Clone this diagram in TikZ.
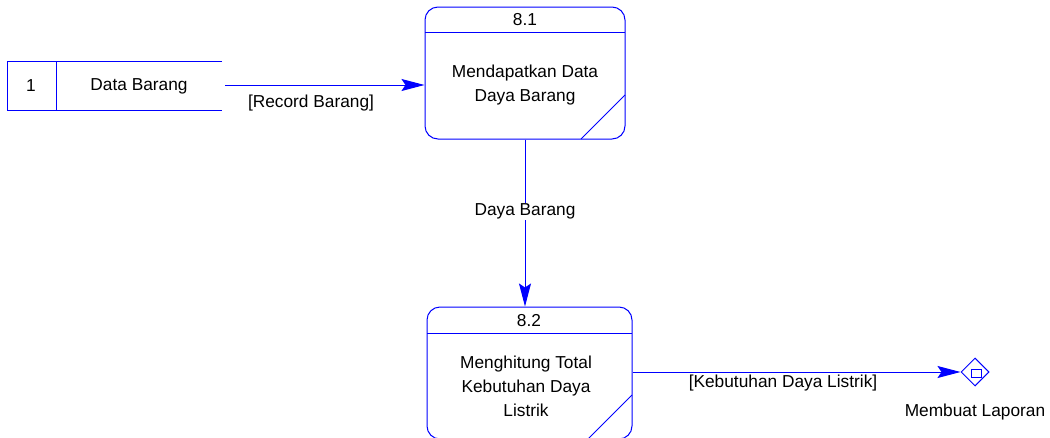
\documentclass[tikz,border=0pt]{standalone}
\usepackage{fontspec}
\setmainfont{Liberation Sans}
\usetikzlibrary{arrows.meta,shapes.geometric}
\definecolor{dfdblue}{RGB}{0,0,255}
\begin{document}
\begin{tikzpicture}[x=1pt,y=-1pt,
  line/.style={draw=dfdblue,line width=1pt},
  proc/.style={line, rounded corners=13pt, minimum height=132pt, inner sep=0pt},
  flow/.style={line, -{Stealth[length=23pt,width=12pt,inset=4pt]}},
  lbl/.style={font=\fontsize{17.3}{24}\selectfont, text=black, align=center, inner sep=1pt},
]
\useasboundingbox (0,0) rectangle (1050,437);
\clip (0,0) rectangle (1050,437);

% data store 1
\node (ds) [minimum width=214pt, minimum height=48pt, inner sep=0pt] at (115,86) {};
\draw[line] (ds.north east) -- (ds.north west) -- (ds.south west) -- (ds.south east);
\draw[line] (56,62) -- (56,110);
\node (dsnum) [lbl] at (31,86) {1};
\node (dsname) [lbl] at (139,86) {Data Barang};

% process 8.1
\node (p81) [proc, minimum width=200pt] at (525,73) {};
\draw[line] (425,32) -- (625,32);
\draw[line] (625,95) -- (581,139);
\node (p81n) [lbl] at (525,20) {8.1};
\node (p81t) [lbl] at (525,85) {Mendapatkan Data\\Daya Barang};

% process 8.2
\node (p82) [proc, minimum width=205pt] at (529.5,373) {};
\draw[line] (427,333) -- (632,333);
\draw[line] (632,395) -- (588,439);
\node (p82n) [lbl] at (529,321) {8.2};
\node (p82t) [lbl] at (526,386) {Menghitung Total\\Kebutuhan Daya\\Listrik};

% external entity reference
\node (ext) [line, diamond, minimum width=28pt, minimum height=28pt, inner sep=0pt] at (975,372) {};
\node (extbox) [draw=dfdblue, line width=0.9pt, minimum width=10pt, minimum height=8pt, inner sep=0pt] at (976,373) {};
\node (extlbl) [lbl] at (975,412) {Membuat Laporan};

% data flows
\draw[flow] ([shift={(3,-1)}]ds.east) -- (p81.west |- 0,85);
\node (rb) [lbl] at (311,103) {[Record Barang]};
\draw[flow] (p81.south) -- (p81.south |- p82.north)
  node[lbl, fill=white, pos=0.43] {Daya Barang};
\draw[flow] (p82.east |- ext.west) -- (ext.west);
\node (kdl) [lbl] at (783,383) {[Kebutuhan Daya Listrik]};
\end{tikzpicture}
\end{document}
